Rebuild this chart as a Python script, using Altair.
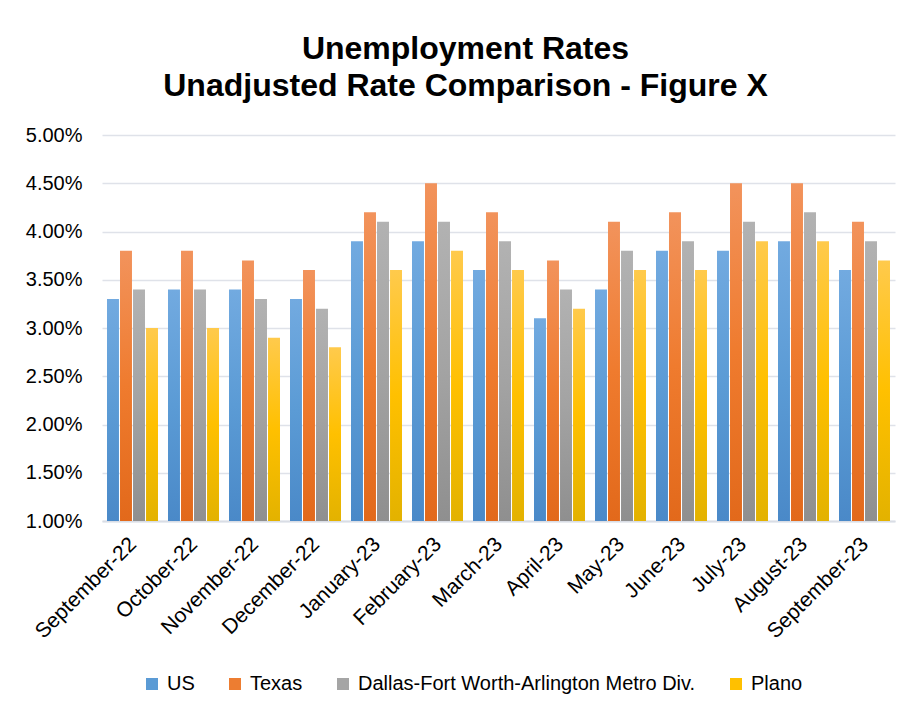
import altair as alt
import pandas as pd

months = ["September-22", "October-22", "November-22", "December-22", "January-23",
          "February-23", "March-23", "April-23", "May-23", "June-23", "July-23",
          "August-23", "September-23"]
series_names = ["US", "Texas", "Dallas-Fort Worth-Arlington Metro Div.", "Plano"]
us = [3.3, 3.4, 3.4, 3.3, 3.9, 3.9, 3.6, 3.1, 3.4, 3.8, 3.8, 3.9, 3.6]
texas = [3.8, 3.8, 3.7, 3.6, 4.2, 4.5, 4.2, 3.7, 4.1, 4.2, 4.5, 4.5, 4.1]
dfw = [3.4, 3.4, 3.3, 3.2, 4.1, 4.1, 3.9, 3.4, 3.8, 3.9, 4.1, 4.2, 3.9]
plano = [3.0, 3.0, 2.9, 2.8, 3.6, 3.8, 3.6, 3.2, 3.6, 3.6, 3.9, 3.9, 3.7]
y_ticks = [1.0, 1.5, 2.0, 2.5, 3.0, 3.5, 4.0, 4.5, 5.0]

solid = ["#5b9bd5", "#ed7d31", "#a5a5a5", "#ffc000"]
grad_stops = [
    ("#72aae0", "#5b9bd5", "#4a89c8"),
    ("#f2935c", "#ef7b2e", "#e2691b"),
    ("#b2b2b2", "#a3a3a3", "#8f8f8f"),
    ("#ffca4c", "#ffc000", "#e3b200"),
]

rows = []
for vals, name in zip([us, texas, dfw, plano], series_names):
    for m, v in zip(months, vals):
        rows.append({"month": m, "series": name, "rate": v})
df = pd.DataFrame(rows)


def gradient(stops):
    return {
        "gradient": "linear", "x1": 0, "x2": 0, "y1": 0, "y2": 1,
        "stops": [{"offset": 0, "color": stops[0]},
                  {"offset": 0.5, "color": stops[1]},
                  {"offset": 1, "color": stops[2]}],
    }


conditions = [
    {"test": f"datum.series === '{name}'", "value": gradient(st)}
    for name, st in zip(series_names, grad_stops)
]

FONT = "Liberation Sans"

chart = alt.Chart(df).mark_bar(strokeWidth=0).encode(
    x=alt.X("month:N", sort=months, title=None,
            scale=alt.Scale(paddingInner=0.164, paddingOuter=0.082),
            axis=alt.Axis(labelAngle=-45, labelFontSize=21, labelFont=FONT,
                          labelColor="#000000", labelPadding=12, labelOffset=-7,
                          labelLimit=300,
                          ticks=False, domain=True, domainColor="#d9dde5",
                          domainWidth=2, grid=False)),
    xOffset=alt.XOffset("series:N", sort=series_names,
                        scale=alt.Scale(paddingInner=0.08, paddingOuter=0)),
    y=alt.Y("rate:Q", title=None,
            scale=alt.Scale(domain=[1, 5], zero=False, nice=False),
            axis=alt.Axis(values=y_ticks, labelExpr="format(datum.value, '.2f') + '%'",
                          labelFontSize=20, labelFont=FONT, labelColor="#000000",
                          labelPadding=20, ticks=False, domain=False,
                          grid=True, gridColor="#dfe2e9", gridWidth=1.4)),
    y2=alt.datum(1.0),
    color=alt.Color("series:N", sort=series_names,
                    scale=alt.Scale(domain=series_names, range=solid),
                    condition=conditions,
                    legend=alt.Legend(title=None, orient="none", legendX=40, legendY=539,
                                      direction="horizontal", symbolType="square",
                                      symbolSize=144, symbolStrokeWidth=0,
                                      labelFontSize=20, labelFont=FONT,
                                      labelColor="#000000", columnPadding=30,
                                      labelOffset=5, padding=0, labelLimit=500)),
).properties(
    width=793,
    height=386,
    background="#ffffff",
    title=alt.Title(["Unemployment Rates", "Unadjusted Rate Comparison - Figure X"],
                    fontSize=32, font=FONT, fontWeight="bold", color="#000000",
                    anchor="middle", dx=-33, offset=22, lineHeight=37),
    autosize=alt.AutoSizeParams(type="none"),
    padding={"left": 102, "top": 135, "right": 18, "bottom": 194},
).configure_view(stroke=None, strokeWidth=0)

chart.save("out.html", embed_options={"renderer": "svg", "actions": False})
